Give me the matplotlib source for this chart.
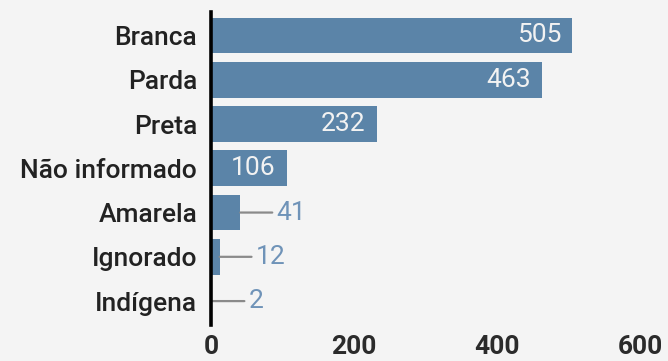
import matplotlib.pyplot as plt

# Cases by race/colour
categorias = ["Branca", "Parda", "Preta", "Não informado", "Amarela", "Ignorado", "Indígena"]
valores = [505, 463, 232, 106, 41, 12, 2]
xticks = [0, 200, 400, 600]

bg = "#f4f4f4"
bar_color = "#5b84a8"
fs = 19

fig = plt.figure(figsize=(6.68, 3.61), dpi=100, facecolor=bg)
ax = fig.add_axes([211 / 668, 1 - 325 / 361, 429 / 668, 313 / 361])
ax.set_facecolor(bg)

y = list(range(len(categorias)))
ax.barh(y, valores, height=0.81, color=bar_color)

ax.set_xlim(0, 600)
ax.set_ylim(6.54, -0.53)
ax.set_yticks(y)
ax.set_yticklabels(categorias, fontsize=fs, fontweight="medium", color="#222222", family="Roboto")
ax.set_xticks(xticks)
ax.set_xticklabels([str(t) for t in xticks], fontsize=fs, fontweight="bold", color="#2b2b2b", family="Roboto")
ax.tick_params(axis="y", length=0, pad=10)
ax.tick_params(axis="x", length=0, pad=7)

for s in ["top", "right", "bottom"]:
    ax.spines[s].set_visible(False)
ax.spines["left"].set_linewidth(2.6)
ax.spines["left"].set_color("black")
ax.spines["left"].set_zorder(5)

# labels inside long bars, leader line + label for short ones
for i, v in enumerate(valores):
    if v >= 100:
        ax.annotate(str(v), (v, i), xytext=(-8, 0), textcoords="offset points",
                    ha="right", va="center", fontsize=fs, color="#f2f2f2", family="Roboto")
    else:
        ax.annotate(str(v), (v, i), xytext=(26, 0), textcoords="offset points",
                    ha="left", va="center", fontsize=fs, color="#6f93b8", family="Roboto",
                    arrowprops=dict(arrowstyle="-", color="#8a8a8a", lw=1.6,
                                    shrinkA=1, shrinkB=0))

fig.savefig("out.png", dpi=100, facecolor=bg)
